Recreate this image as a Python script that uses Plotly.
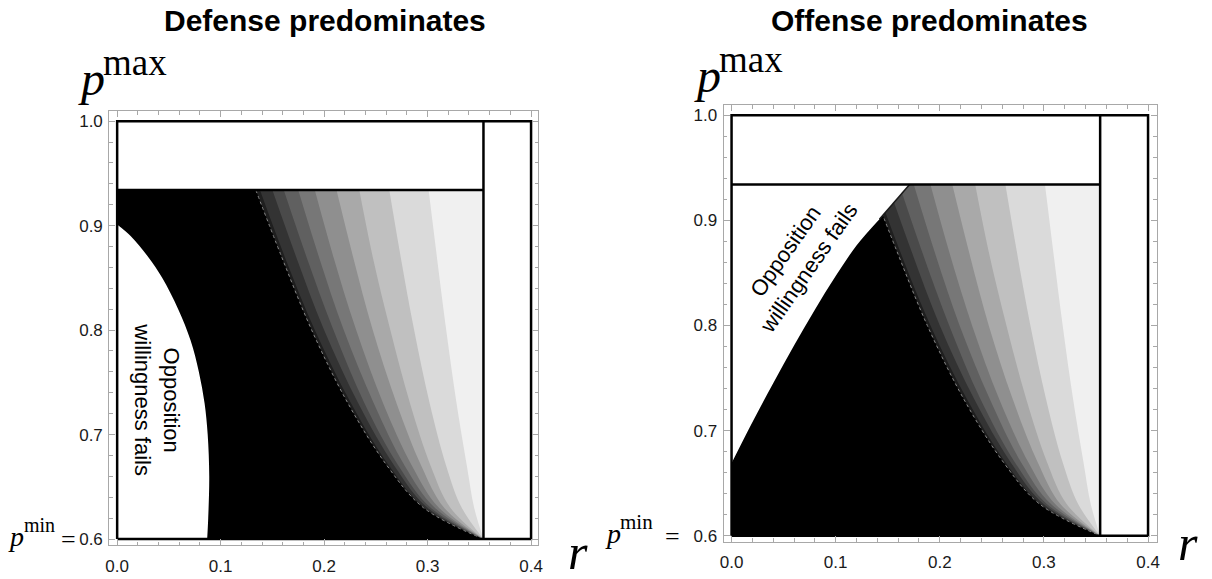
import plotly.graph_objects as go

W, H = 1212, 579

# ---------------- data ----------------
R_LO, R_HI = 0.0, 0.4          # r extent of the outlined box
P_LO, P_HI = 0.6, 1.0          # p extent of the outlined box
R_DIV = 0.354                  # vertical divider
P_DIV = 0.934                  # horizontal divider

x_tick_vals = [0.0, 0.1, 0.2, 0.3, 0.4]
x_tick_text = ["0.0", "0.1", "0.2", "0.3", "0.4"]
y_tick_vals = [0.6, 0.7, 0.8, 0.9, 1.0]
y_tick_text = ["0.6", "0.7", "0.8", "0.9", "1.0"]

# contour band boundaries: r value at each p level
contour_p = [0.934, 0.87, 0.80, 0.73, 0.67, 0.63, 0.60]
boundary_1 = [0.134, 0.159, 0.188, 0.223, 0.261, 0.296, 0.354]
boundary_2 = [0.138, 0.162, 0.191, 0.226, 0.263, 0.297, 0.354]
boundary_3 = [0.150, 0.173, 0.200, 0.233, 0.268, 0.300, 0.354]
boundary_4 = [0.161, 0.183, 0.209, 0.239, 0.272, 0.303, 0.354]
boundary_5 = [0.175, 0.195, 0.219, 0.248, 0.278, 0.307, 0.354]
boundary_6 = [0.191, 0.209, 0.231, 0.257, 0.285, 0.311, 0.354]
boundary_7 = [0.212, 0.228, 0.247, 0.270, 0.294, 0.316, 0.354]
boundary_8 = [0.234, 0.247, 0.264, 0.283, 0.303, 0.322, 0.354]
boundary_9 = [0.263, 0.274, 0.287, 0.302, 0.318, 0.333, 0.354]
boundary_10 = [0.301, 0.309, 0.318, 0.328, 0.338, 0.345, 0.354]
band_colors = ["#1f1f1f", "#333333", "#4a4a4a", "#606060", "#777777",
               "#8f8f8f", "#a9a9a9", "#c0c0c0", "#dadada", "#f0f0f0"]

# "Opposition willingness fails" region, defense panel
defense_fail_r = [0.000, 0.013, 0.030, 0.0435, 0.059, 0.071, 0.079, 0.0845, 0.0875, 0.089, 0.088, 0.087]
defense_fail_p = [0.901, 0.890, 0.870, 0.850, 0.820, 0.790, 0.760, 0.730, 0.700, 0.660, 0.620, 0.600]

# "Opposition willingness fails" region, offense panel
offense_fail_r = [0.142, 0.120, 0.100, 0.080, 0.060, 0.040, 0.020, 0.000]
offense_fail_p = [0.901, 0.876, 0.847, 0.815, 0.781, 0.745, 0.708, 0.669]
offense_cut_r = [0.142, 0.171]
offense_cut_p = [0.901, 0.934]

boundaries = [boundary_1, boundary_2, boundary_3, boundary_4, boundary_5,
              boundary_6, boundary_7, boundary_8, boundary_9, boundary_10]

# ---------------- figure ----------------
fig = go.Figure()


def tr(xs, ys, xa, ya, **kw):
    return go.Scatter(x=xs, y=ys, xaxis=xa, yaxis=ya, mode="lines",
                      hoverinfo="skip", showlegend=False, **kw)


def add_panel(xa, ya, edge_r, edge_p, fail_r, fail_p, cut=None):
    # black base of the region
    fig.add_trace(tr([R_LO, R_DIV, R_DIV, R_LO, R_LO], [P_LO, P_LO, P_DIV, P_DIV, P_LO],
                     xa, ya, fill="toself", fillcolor="black", line=dict(width=0)))
    # contour bands (painted from dark to light)
    for rs, col in zip(boundaries, band_colors):
        fig.add_trace(tr([R_DIV, R_DIV], [P_DIV, P_LO], xa, ya, line=dict(width=0)))
        fig.add_trace(tr(rs, contour_p, xa, ya, fill="tonextx", fillcolor=col,
                         line=dict(width=0, shape="spline")))
    fig.add_trace(tr(boundary_1, contour_p, xa, ya,
                     line=dict(width=1, color="#8a8a8a", dash="dot", shape="spline")))
    # white "willingness fails" region
    fig.add_trace(tr(edge_r, edge_p, xa, ya, line=dict(width=0)))
    fig.add_trace(tr(fail_r, fail_p, xa, ya, fill="tonextx", fillcolor="white",
                     line=dict(width=0, shape="spline")))
    if cut is not None:
        fig.add_trace(tr(cut[0], cut[1], xa, ya, line=dict(width=1.5, color="#1a1a1a")))
    # outlines
    blk = dict(width=2.5, color="black")
    fig.add_trace(tr([R_LO, R_HI, R_HI, R_LO, R_LO], [P_LO, P_LO, P_HI, P_HI, P_LO], xa, ya, line=blk))
    fig.add_trace(tr([R_LO, R_DIV], [P_DIV, P_DIV], xa, ya, line=blk))
    fig.add_trace(tr([R_DIV, R_DIV], [P_LO, P_HI], xa, ya, line=blk))


add_panel("x", "y", [0.0, 0.0], [defense_fail_p[0], P_LO], defense_fail_r, defense_fail_p)
add_panel("x2", "y2",
          [offense_cut_r[0], offense_cut_r[1], R_LO, R_LO],
          [offense_cut_p[0], offense_cut_p[1], P_DIV, offense_fail_p[-1]],
          offense_fail_r, offense_fail_p, cut=(offense_cut_r, offense_cut_p))

FRAME = "#a8a8a8"
tickfont = dict(family="Liberation Sans, Arial, sans-serif", size=17, color="#1a1a1a")


def xaxis(domain, anchor, rng):
    return dict(domain=domain, anchor=anchor, range=rng, showgrid=False, zeroline=False,
                showline=True, linecolor=FRAME, linewidth=1, mirror="ticks",
                ticks="inside", ticklen=6, tickwidth=1, tickcolor=FRAME,
                tickmode="array", tickvals=x_tick_vals, ticktext=x_tick_text,
                tickfont=tickfont, ticklabelstandoff=5,
                minor=dict(ticks="inside", ticklen=3.5, tickcolor=FRAME, tickwidth=1,
                           tickmode="linear", tick0=0.0, dtick=0.02, showgrid=False))


def yaxis(domain, anchor, rng):
    return dict(domain=domain, anchor=anchor, range=rng, showgrid=False, zeroline=False,
                showline=True, linecolor=FRAME, linewidth=1, mirror="ticks",
                ticks="inside", ticklen=6, tickwidth=1, tickcolor=FRAME,
                tickmode="array", tickvals=y_tick_vals, ticktext=y_tick_text,
                tickfont=tickfont, ticklabelstandoff=2,
                minor=dict(ticks="inside", ticklen=3.5, tickcolor=FRAME, tickwidth=1,
                           tickmode="linear", tick0=0.6, dtick=0.02, showgrid=False))


xa1 = xaxis([106 / W, 538 / W], "y", [-0.00767, 0.40671])
ya1 = yaxis([1 - 549 / H, 1 - 112 / H], "x", [0.5941, 1.0095])
xa2 = xaxis([725 / W, 1161.5 / W], "y2", [-0.00763, 0.40848])
ya2 = yaxis([1 - 545.5 / H, 1 - 106 / H], "x2", [0.59428, 1.00945])

SERIF = "Liberation Serif, Times New Roman, serif"
SANS = "Liberation Sans, Arial, sans-serif"


def ann(text, x, y, size, family, xanchor="center", yanchor="middle", angle=0, color="black"):
    return dict(text=text, x=x / W, y=1 - y / H, xref="paper", yref="paper",
                xanchor=xanchor, yanchor=yanchor, showarrow=False, textangle=angle,
                font=dict(size=size, family=family, color=color), align="center",
                borderpad=0)


annotations = [
    ann("<b>Defense predominates</b>", 323, 21, 30, SANS),
    ann("<b>Offense predominates</b>", 932, 21, 30, SANS),
    # p^max labels
    ann("<i>p</i>", 74, 79, 48, SERIF, xanchor="left"),
    ann("max", 99, 63, 37, SERIF, xanchor="left"),
    ann("<i>p</i>", 694, 76, 48, SERIF, xanchor="left"),
    ann("max", 719, 60, 37, SERIF, xanchor="left"),
    # r labels
    ann("<i>r</i>", 578, 556, 50, SERIF),
    ann("<i>r</i>", 1193, 547, 50, SERIF),
    # p^min = labels
    ann("<i>p</i>", 3, 540, 28, SERIF, xanchor="left"),
    ann("min", 19, 529, 20, SERIF, xanchor="left"),
    ann("=", 65, 543, 26, SERIF),
    ann("<i>p</i>", 604, 537, 28, SERIF, xanchor="left"),
    ann("min", 620, 526, 21, SERIF, xanchor="left"),
    ann("=", 673, 540, 26, SERIF),
    # region labels
    ann("Opposition<br>willingness fails", 154, 403, 22, SANS, angle=90),
    ann("Opposition<br>willingness fails", 799, 262, 22, SANS, angle=-55),
]

fig.update_layout(
    width=W, height=H, margin=dict(l=0, r=0, t=0, b=0),
    paper_bgcolor="white", plot_bgcolor="white",
    xaxis=xa1, yaxis=ya1, xaxis2=xa2, yaxis2=ya2,
    annotations=annotations, showlegend=False,
)

fig.write_html("out.html")
